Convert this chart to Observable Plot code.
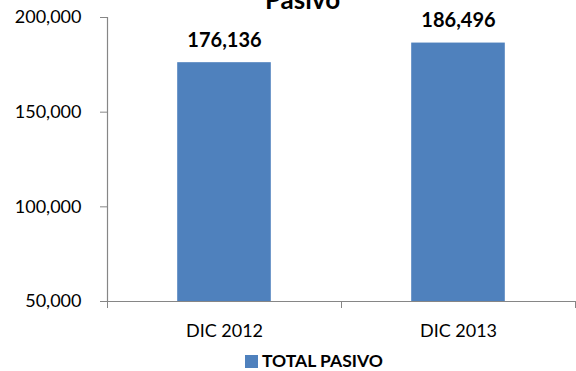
<!DOCTYPE html>
<html>
<head>
<meta charset="utf-8">
<script src="https://cdn.jsdelivr.net/npm/d3@7"></script>
<script src="https://cdn.jsdelivr.net/npm/@observablehq/plot@0.6"></script>
<style>
  html, body { margin: 0; padding: 0; background: #fff; overflow: hidden; }
  #chart { width: 576px; height: 371px; position: relative; font-family: Lato, "Open Sans", sans-serif; }
  #legend { position: relative; height: 25px; }
  #legend .sw { position: absolute; left: 245px; top: 9px; width: 13px; height: 13px; background: #4F81BD; }
  #legend .lb { position: absolute; left: 262px; top: 3px; font-size: 17.5px; font-weight: bold; line-height: 24px; color: #000; }
</style>
</head>
<body>
<div id="chart"></div>
<script>
const title = "Pasivo";
const seriesName = "TOTAL PASIVO";
const categories = ["DIC 2012", "DIC 2013"];
const values = [176136, 186496];
const yTicks = [50000, 100000, 150000, 200000];
const barColor = "#4F81BD";
const axisColor = "#868686";

const data = categories.map((c, i) => ({cat: c, idx: i, value: values[i]}));
const fmt = d3.format(",");

const plot = Plot.plot({
  width: 576,
  height: 346,
  marginLeft: 107,
  marginRight: 1,
  marginTop: 17,
  marginBottom: 45,
  style: {fontFamily: "Lato, 'Open Sans', sans-serif", fontSize: "18px", color: "#000", background: "#fff", overflow: "visible"},
  x: {domain: [-0.5, categories.length - 0.5], axis: null, label: null},
  y: {domain: [yTicks[0], yTicks[yTicks.length - 1]], axis: null, label: null},
  marks: [
    Plot.rect(data, {x1: d => d.idx - 0.2, x2: d => d.idx + 0.2, y1: () => yTicks[0], y2: "value", fill: barColor}),
    Plot.ruleX([-0.5], {stroke: axisColor, strokeWidth: 1.2}),
    Plot.ruleY([yTicks[0]], {stroke: axisColor, strokeWidth: 1.2}),
    Plot.axisY({ticks: yTicks, tickSize: 7, tickPadding: 19, tickFormat: fmt, stroke: axisColor, fill: "#000", fontSize: 18, label: null}),
    Plot.axisX({ticks: d3.range(categories.length + 1).map(i => i - 0.5), tickSize: 7, tickFormat: () => "", stroke: axisColor, label: null}),
    Plot.axisX({ticks: d3.range(categories.length), tickSize: 0, tickPadding: 23, tickFormat: i => categories[i], fill: "#000", fontSize: 18, label: null}),
    Plot.text(data, {x: "idx", y: "value", text: d => fmt(d.value), dy: -22, fontWeight: "bold", fontSize: 20, fill: "#000"}),
    Plot.text([title], {frameAnchor: "top", dx: -39, dy: -9, lineAnchor: "bottom", fontSize: 26, fontWeight: "bold", fill: "#000"})
  ]
});

const chart = document.getElementById("chart");
chart.appendChild(plot);
const legend = document.createElement("div");
legend.id = "legend";
legend.innerHTML = `<div class="sw"></div><div class="lb">${seriesName}</div>`;
chart.appendChild(legend);
</script>
</body>
</html>
